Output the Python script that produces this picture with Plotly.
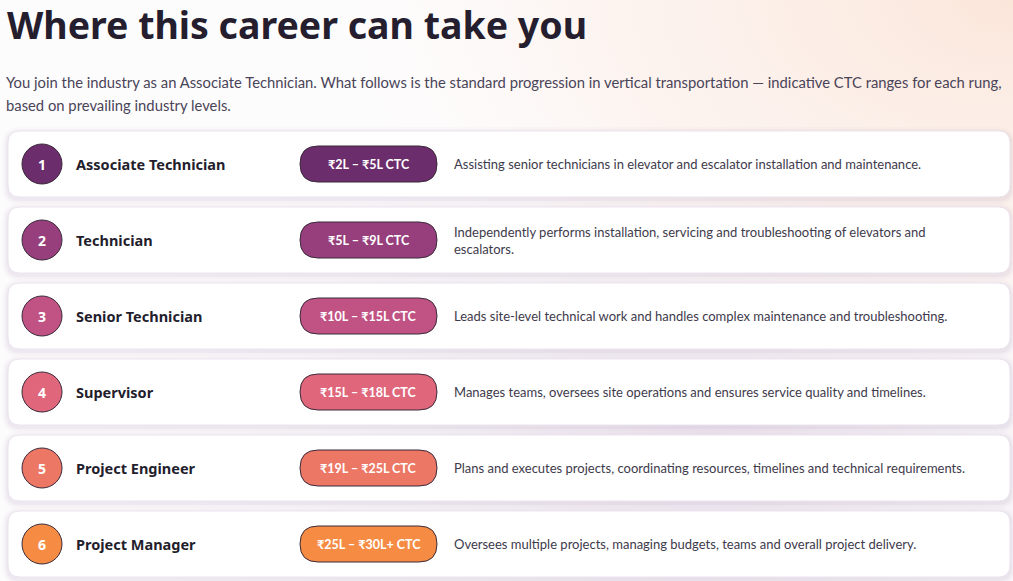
import base64
import plotly.graph_objects as go

W, H = 1013, 581

title = "Where this career can take you"
intro = ["You join the industry as an Associate Technician. What follows is the standard progression in vertical "
         "transportation \u2014 indicative CTC ranges for each rung,",
         "based on prevailing industry levels."]

ranks = [1, 2, 3, 4, 5, 6]
roles = ["Associate Technician", "Technician", "Senior Technician",
         "Supervisor", "Project Engineer", "Project Manager"]
ctc = ["\u20b92L \u2013 \u20b95L CTC", "\u20b95L \u2013 \u20b99L CTC", "\u20b910L \u2013 \u20b915L CTC",
       "\u20b915L \u2013 \u20b918L CTC", "\u20b919L \u2013 \u20b925L CTC", "\u20b925L \u2013 \u20b930L+ CTC"]
descriptions = [
    "Assisting senior technicians in elevator and escalator installation and maintenance.",
    "Independently performs installation, servicing and troubleshooting of elevators and<br>escalators.",
    "Leads site-level technical work and handles complex maintenance and troubleshooting.",
    "Manages teams, oversees site operations and ensures service quality and timelines.",
    "Plans and executes projects, coordinating resources, timelines and technical requirements.",
    "Oversees multiple projects, managing budgets, teams and overall project delivery.",
]
colours = ["#6b2d6b", "#973f7c", "#c15384", "#df667b", "#ec7764", "#f68c44"]

# layout in pixels (axes are 1:1 with the page)
row0, pitch, card_h = 164, 76, 66
card_x0, card_x1 = 8, 1010
circ_x, circ_r = 42, 20
pill_x0, pill_x1, pill_h = 300, 437, 36
name_x, desc_x = 74, 452


def rrect(x0, y0, x1, y1, r):
    return (f"M{x0+r},{y0} L{x1-r},{y0} Q{x1},{y0} {x1},{y0+r} L{x1},{y1-r} Q{x1},{y1} {x1-r},{y1} "
            f"L{x0+r},{y1} Q{x0},{y1} {x0},{y1-r} L{x0},{y0+r} Q{x0},{y0} {x0+r},{y0} Z")


bg_svg = f"""<svg xmlns='http://www.w3.org/2000/svg' width='{W}' height='{H}' viewBox='0 0 {W} {H}'>
<defs>
<radialGradient id='p' cx='1' cy='0' r='0.75'>
<stop offset='0' stop-color='#fbe6da'/><stop offset='0.55' stop-color='#fcefe8' stop-opacity='0.6'/>
<stop offset='1' stop-color='#ffffff' stop-opacity='0'/></radialGradient>
<radialGradient id='l' cx='0.7' cy='0.75' r='0.6'>
<stop offset='0' stop-color='#eee6ef'/><stop offset='1' stop-color='#f6f2f7' stop-opacity='0'/></radialGradient>
</defs>
<rect width='{W}' height='{H}' fill='#fdfcfd'/>
<rect width='{W}' height='{H}' fill='url(#l)'/>
<rect width='{W}' height='{H}' fill='url(#p)'/>
</svg>"""
bg_uri = "data:image/svg+xml;base64," + base64.b64encode(bg_svg.encode()).decode()

fig = go.Figure()
fig.add_trace(go.Scatter(x=[0, W], y=[0, H], mode="markers", marker=dict(opacity=0),
                         hoverinfo="skip", showlegend=False))

shapes, annotations = [], []
for i, rank in enumerate(ranks):
    yc = row0 + pitch * i
    y0, y1 = yc - card_h / 2, yc + card_h / 2
    # soft shadow + card
    for k, a in [(6, 0.025), (4, 0.035), (2, 0.05)]:
        shapes.append(dict(type="path", path=rrect(card_x0 - k, y0 - k + 2, card_x1 + k, y1 + k + 2, 12 + k),
                           fillcolor=f"rgba(110,80,130,{a})", line=dict(width=0), layer="below"))
    shapes.append(dict(type="path", path=rrect(card_x0, y0, card_x1, y1, 12),
                       fillcolor="white", line=dict(color="#ebe4ef", width=1), layer="below"))
    # number badge
    shapes.append(dict(type="circle", x0=circ_x - circ_r, x1=circ_x + circ_r, y0=yc - circ_r, y1=yc + circ_r,
                       fillcolor=colours[i], line=dict(color="#3b2b3b", width=1)))
    # CTC pill
    shapes.append(dict(type="path", path=rrect(pill_x0, yc - pill_h / 2, pill_x1, yc + pill_h / 2, pill_h / 2),
                       fillcolor=colours[i], line=dict(color="#3b2b3b", width=1)))
    annotations.append(dict(x=circ_x, y=yc, text=f"<b>{rank}</b>", showarrow=False, xanchor="center",
                            yanchor="middle", font=dict(family="Noto Sans", size=14, color="white")))
    annotations.append(dict(x=name_x, y=yc, text=f"<b>{roles[i]}</b>", showarrow=False, xanchor="left",
                            yanchor="middle", font=dict(family="Noto Sans", size=14.5, color="#231d2c")))
    annotations.append(dict(x=(pill_x0 + pill_x1) / 2, y=yc, text=f"<b>{ctc[i]}</b>", showarrow=False,
                            xanchor="center", yanchor="middle",
                            font=dict(family="Lato", size=12.5, color="white")))
    annotations.append(dict(x=desc_x, y=yc, text=descriptions[i], showarrow=False, xanchor="left",
                            yanchor="middle", align="left",
                            font=dict(family="Lato", size=13, color="#3e3a4b")))

annotations.append(dict(x=5, y=24, text=f"<b>{title}</b>", showarrow=False, xanchor="left", yanchor="middle",
                        font=dict(family="Noto Sans", size=37.5, color="#241e2e")))
for j, line in enumerate(intro):
    annotations.append(dict(x=4, y=82 + 23 * j, text=line, showarrow=False, xanchor="left", yanchor="middle",
                            align="left", font=dict(family="Lato", size=14.8, color="#4a4458")))

fig.update_layout(
    width=W, height=H, margin=dict(l=0, r=0, t=0, b=0),
    paper_bgcolor="white", plot_bgcolor="rgba(0,0,0,0)",
    xaxis=dict(range=[0, W], visible=False, fixedrange=True),
    yaxis=dict(range=[H, 0], visible=False, fixedrange=True),
    shapes=shapes, annotations=annotations, showlegend=False,
    images=[dict(source=bg_uri, xref="paper", yref="paper", x=0, y=1, sizex=1, sizey=1,
                 sizing="stretch", layer="below", xanchor="left", yanchor="top")],
)

# page margin off so the figure sits flush in the window
fig.write_html("out.html", config=dict(displayModeBar=False),
               post_script="document.body.style.margin='0';")
